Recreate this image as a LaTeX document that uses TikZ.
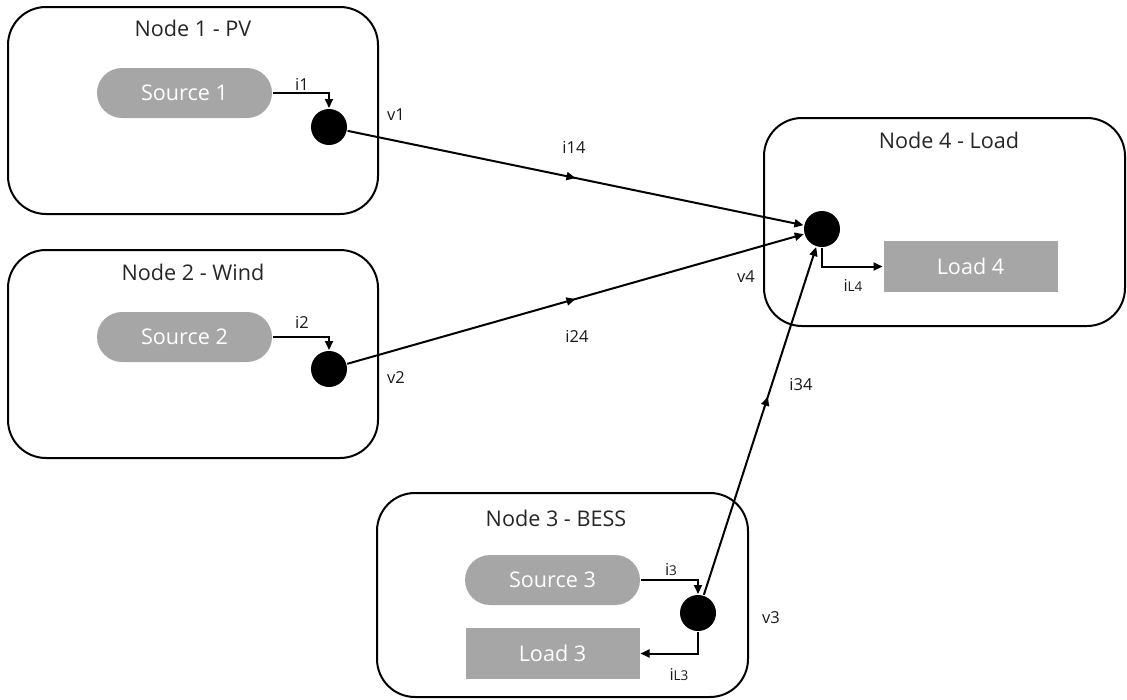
\documentclass[tikz,border=0pt]{standalone}
\usepackage{fontspec}
\setmainfont{Open Sans}
\usetikzlibrary{arrows.meta,decorations.markings,shapes.misc}
\begin{document}
\begin{tikzpicture}[x=1pt,y=-1pt,
  line width=2pt,
  tip/.style={-{Triangle[length=9pt,width=8pt]}},
  container/.style={draw=black,rounded corners=38pt,line width=2pt},
  title/.style={text=black!85,font=\fontsize{21.6}{26}\selectfont},
  source/.style={rounded rectangle,fill=black!35,text=white,minimum width=175pt,minimum height=50pt,inner sep=0pt,font=\fontsize{21.6}{26}\selectfont},
  load/.style={rectangle,fill=black!35,text=white,minimum width=174pt,minimum height=51pt,inner sep=0pt,font=\fontsize{21.6}{26}\selectfont},
  bus/.style={circle,fill=black,minimum size=36pt,inner sep=0pt},
  lbl/.style={text=black!90,font=\fontsize{16.5}{20}\selectfont,inner sep=0pt},
  midarrow/.style={postaction={decorate},decoration={markings,mark=at position #1 with {\arrow{Triangle[length=9pt,width=8pt]}}}}
]
\useasboundingbox (0,0) rectangle (1127,699);
\newcommand{\sm}[1]{{\fontsize{13.5}{16}\selectfont #1}}

% node containers
\draw[container] (8,7) rectangle (378,214);
\draw[container] (8,250) rectangle (378,458);
\draw[container] (764,118) rectangle (1125,326);
\draw[container] (377,493) rectangle (748,697);

\node[title] (t1) at (193,28) {Node 1 - PV};
\node[title] (t2) at (193,272) {Node 2 - Wind};
\node[title] (t4) at (949,140) {Node 4 - Load};
\node[title] (t3) at (556,518) {Node 3 - BESS};

% sources, loads and buses
\node[source] (s1) at (184.5,93) {Source 1};
\node[source] (s2) at (184.5,337) {Source 2};
\node[source] (s3) at (552.5,580) {Source 3};
\node[load] (l3) at (552.5,653.5) {Load 3};
\node[load] (l4) at (970.5,266.5) {Load 4};

\node[bus] (b1) at (329,127) {};
\node[bus] (b2) at (329,369) {};
\node[bus] (b3) at (698,613) {};
\node[bus] (b4) at (822,229) {};

% local currents
\draw[tip] (s1.east) -| (b1.north);
\draw[tip] (s2.east) -| (b2.north);
\draw[tip] (s3.east) -| (b3.north);
\draw[tip] (b3.south) |- (l3.east);
\draw[tip] (b4.south) |- (l4.west);

% line currents
\draw[tip,midarrow=0.5] (b1) -- (b4);
\draw[tip,midarrow=0.5] (b2) -- (b4);
\draw[tip,midarrow=0.57] (b3) -- (b4);

% labels
\node[lbl] (li1) at (302,84) {i1};
\node[lbl] (li2) at (302,322) {i2};
\node[lbl] (li3) at (671,570) {i\sm{3}};
\node[lbl] (liL3) at (679,675) {i\sm{L3}};
\node[lbl] (liL4) at (853,285) {i\sm{L4}};
\node[lbl] (lv1) at (396,115) {v1};
\node[lbl] (lv2) at (396,378) {v2};
\node[lbl] (lv3) at (771,618) {v3};
\node[lbl] (lv4) at (746,277) {v4};
\node[lbl] (li14) at (574,147) {i14};
\node[lbl] (li24) at (577,336) {i24};
\node[lbl] (li34) at (801,385) {i34};
\end{tikzpicture}
\end{document}
